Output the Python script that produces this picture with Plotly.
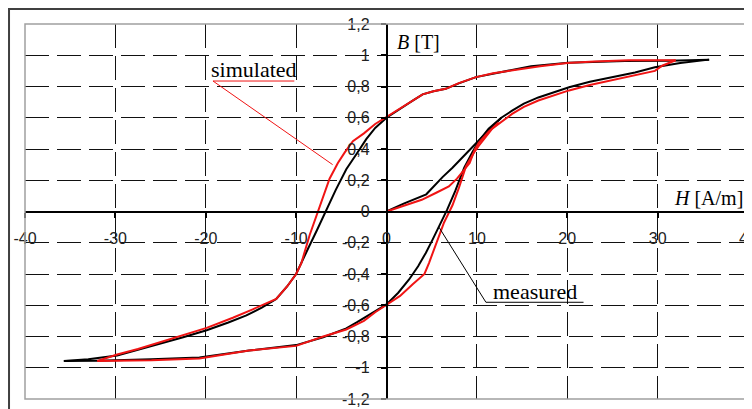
import plotly.graph_objects as go

# measured loop (black)
meas_init_h = [0, 1.9, 4.4, 6.2, 7.3, 8.6, 9.9, 11.3, 12.7]
meas_init_b = [0, 0.05, 0.11, 0.22, 0.28, 0.36, 0.44, 0.52, 0.60]

meas_up_h = [-35.7, -32, -26, -20.7, -15.2, -10, -7, -4.45, -3.3, -2.2, -1.1, 0, 1.3, 2.5, 3.5,
             4.35, 5.1, 5.8, 6.7, 7.6, 8.6, 9.5, 10.2, 11.3, 12.7, 13.9, 15.2, 16.8, 18.5, 20.2,
             22.5, 25, 27.5, 29.7, 32.5, 35.7]
meas_up_b = [-0.957, -0.955, -0.945, -0.935, -0.89, -0.855, -0.805, -0.748, -0.71, -0.67, -0.63,
             -0.595, -0.52, -0.435, -0.35, -0.265, -0.18, -0.10, 0.01, 0.13, 0.28, 0.38, 0.45,
             0.53, 0.60, 0.645, 0.69, 0.73, 0.765, 0.795, 0.83, 0.86, 0.89, 0.923, 0.95, 0.972]

meas_down_h = [35.7, 31.2, 26.4, 20.1, 16, 13.9, 12, 9.9, 8, 6.55, 5.2, 4, 2.9, 1.4, 0, -1.25, -2.24,
               -3.3, -4.45, -5.6, -6.7, -7.7, -8.7, -10, -11, -12.2, -13.8, -15.5, -17.5, -19.9,
               -22.5, -25.1, -27.5, -29.8, -33, -35.7]
meas_down_b = [0.972, 0.965, 0.963, 0.952, 0.93, 0.905, 0.885, 0.86, 0.82, 0.785, 0.77, 0.75, 0.71,
               0.655, 0.60, 0.535, 0.463, 0.37, 0.27, 0.14, 0.0, -0.12, -0.24, -0.40, -0.48, -0.56,
               -0.615, -0.665, -0.71, -0.76, -0.805, -0.845, -0.885, -0.922, -0.945, -0.957]

# simulated loop (red)
sim_init_h = [0, 2, 3.9, 5.5, 6.9, 7.8, 8.7, 9.2, 9.8, 10.2, 11.3, 12.4]
sim_init_b = [0, 0.04, 0.075, 0.12, 0.16, 0.21, 0.27, 0.31, 0.40, 0.44, 0.51, 0.57]

sim_up_h = [-32, -26, -20.7, -15.2, -10, -7, -4.45, -2.5, -1.25, 0, 1.5, 2.9, 4.2, 4.7, 5.27, 5.8,
            6.37, 7.3, 8, 8.8, 9.6, 10.2, 11.7, 13.9, 15.2, 16.8, 18.5, 20.2, 22.5, 25, 27.5, 29.7,
            30.5, 32]
sim_up_b = [-0.957, -0.952, -0.94, -0.89, -0.86, -0.80, -0.755, -0.70, -0.645, -0.598, -0.54, -0.465,
            -0.40, -0.33, -0.24, -0.16, -0.07, 0.04, 0.15, 0.29, 0.37, 0.42, 0.53, 0.625, 0.67,
            0.71, 0.745, 0.775, 0.81, 0.84, 0.87, 0.90, 0.933, 0.968]

sim_down_h = [32, 26.8, 23, 20, 17, 13.9, 11.8, 9.9, 8, 6.55, 5.2, 4, 2.9, 1.4, 0, -1.25, -2.5,
              -3.72, -4.6, -5.38, -6.3, -7.1, -7.6, -8.5, -9.42, -10, -11, -12.2, -14.8, -17,
              -19.9, -22.5, -25.1, -27.5, -29.8, -32]
sim_down_b = [0.968, 0.968, 0.96, 0.95, 0.93, 0.905, 0.885, 0.86, 0.822, 0.785, 0.77, 0.75, 0.71,
              0.655, 0.60, 0.56, 0.50, 0.45, 0.38, 0.31, 0.21, 0.08, 0.0, -0.15, -0.33, -0.40,
              -0.48, -0.56, -0.626, -0.68, -0.745, -0.79, -0.84, -0.88, -0.915, -0.957]

h_ticks = [-40, -30, -20, -10, 0, 10, 20, 30, 40]
h_labels = ["-40", "-30", "-20", "-10", "0", "10", "20", "30", "40"]
b_ticks = [-1.2, -1, -0.8, -0.6, -0.4, -0.2, 0, 0.2, 0.4, 0.6, 0.8, 1, 1.2]
b_labels = ["-1,2", "-1", "-0,8", "-0,6", "-0,4", "-0,2", "0", "0,2", "0,4", "0,6", "0,8", "1", "1,2"]

# label leader lines (data coords): underline start, underline end, curve point
sim_leader = [(-10.2, 0.835), (-19.2, 0.835), (-5.96, 0.30)]
meas_leader = [(21.8, -0.581), (11.0, -0.581), (5.8, -0.10)]

RED = "#f01414"
SERIF = "Liberation Serif"
SANS = "Liberation Sans"

fig = go.Figure()

for hx, by in [(meas_init_h, meas_init_b), (meas_up_h, meas_up_b), (meas_down_h, meas_down_b)]:
    fig.add_trace(go.Scatter(x=hx, y=by, mode="lines", line=dict(color="black", width=2)))
for hx, by in [(sim_init_h, sim_init_b), (sim_up_h, sim_up_b), (sim_down_h, sim_down_b)]:
    fig.add_trace(go.Scatter(x=hx, y=by, mode="lines", line=dict(color=RED, width=2)))

for pts, col in [(sim_leader, RED), (meas_leader, "black")]:
    fig.add_shape(type="line", x0=pts[0][0], y0=pts[0][1], x1=pts[1][0], y1=pts[1][1],
                  line=dict(color=col, width=1))
    fig.add_shape(type="line", x0=pts[1][0], y0=pts[1][1], x1=pts[2][0], y1=pts[2][1],
                  line=dict(color=col, width=1))

# plot-area border and outer frame (page body adds an 8px offset)
fig.add_shape(type="rect", xref="paper", yref="paper", x0=0, y0=0, x1=1, y1=1,
              line=dict(color="#a0a0a0", width=1.5), layer="above")
fig.add_shape(type="rect", xref="paper", yref="paper", x0=-0.0221, y0=-0.1, x1=1.1, y1=1.04,
              line=dict(color="#404040", width=2), layer="above")

fig.add_annotation(x=-14.66, y=0.906, text="simulated", showarrow=False,
                   font=dict(family=SERIF, size=22, color="black"))
fig.add_annotation(x=16.43, y=-0.509, text="measured", showarrow=False,
                   font=dict(family=SERIF, size=22, color="black"))
fig.add_annotation(x=3.5, y=1.087, text="<i>B</i> [T]", showarrow=False,
                   font=dict(family=SERIF, size=20, color="black"))
fig.add_annotation(x=35.6, y=0.086, text="<i>H</i> [A/m]", showarrow=False,
                   font=dict(family=SERIF, size=20, color="black"))

tickfont = dict(family=SANS, size=16, color="#222")
grid = dict(showgrid=True, gridcolor="#111", gridwidth=1, griddash="24px,8px", zeroline=False)
tick = dict(ticklen=5, tickcolor="black", tickwidth=1.5, automargin=False)

fig.update_layout(
    width=752, height=409,
    margin=dict(l=17, r=12, t=16, b=18, autoexpand=False),
    paper_bgcolor="white", plot_bgcolor="white",
    showlegend=False,
    xaxis=dict(range=[-40, 40], tickmode="array", tickvals=h_ticks, ticktext=h_labels,
               anchor="free", position=0.5, showline=True, linecolor="black", linewidth=2,
               ticks="outside", ticklabelstandoff=7, tickfont=tickfont, **tick, **grid),
    yaxis=dict(range=[-1.2, 1.2], tickmode="array", tickvals=b_ticks, ticktext=b_labels,
               anchor="free", position=0.5, showline=True, linecolor="black", linewidth=1.5,
               ticks="outside", ticklabelstandoff=8, tickfont=tickfont, **tick, **grid),
    xaxis2=dict(range=[-40, 40], overlaying="x", anchor="free", position=0.5,
                tickmode="array", tickvals=h_ticks, ticks="inside", showticklabels=False,
                showgrid=False, showline=False, zeroline=False, **tick),
    yaxis2=dict(range=[-1.2, 1.2], overlaying="y", anchor="free", position=0.5, side="left",
                tickmode="array", tickvals=b_ticks[:-1], ticks="inside", showticklabels=False,
                showgrid=False, showline=False, zeroline=False, **tick),
)

fig.write_html("out.html")
